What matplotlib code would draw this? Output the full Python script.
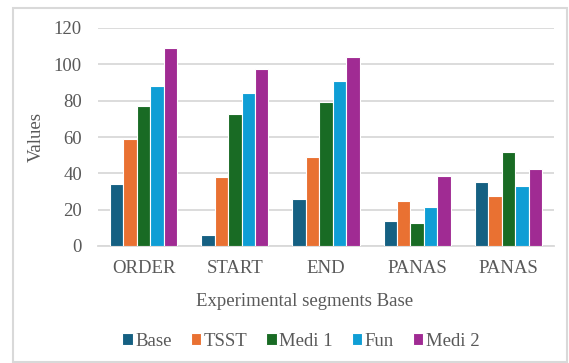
import numpy as np
import matplotlib
matplotlib.use("Agg")
import matplotlib.pyplot as plt
from matplotlib.patches import Rectangle

# Data
categories = ["ORDER", "START", "END", "PANAS", "PANAS"]
series = ["Base", "TSST", "Medi 1", "Fun", "Medi 2"]
base = [34, 6, 26, 14, 35]
tsst = [59, 38, 49, 25, 27.5]
medi1 = [77, 72.5, 79.5, 12.5, 51.5]
fun = [88, 84, 91, 21.5, 33]
medi2 = [109, 97.5, 104, 38.5, 42.5]
colors = ["#156082", "#E97132", "#196B24", "#0F9ED5", "#A02B93"]

plt.rcParams["font.family"] = ["Liberation Serif", "DejaVu Serif"]
text_color = "#595959"
grid_color = "#D9D9D9"
fs = 13.5

fig = plt.figure(figsize=(5.69, 3.63), dpi=100)
ax = fig.add_axes([98 / 569, 1 - 246 / 363, (554 - 98) / 569, (246 - 28) / 363])

x = np.arange(len(categories))
bar_w = 0.147
values = [base, tsst, medi1, fun, medi2]
for i, (name, vals) in enumerate(zip(series, values)):
    ax.bar(x + (i - 2) * bar_w, vals, width=bar_w, color=colors[i],
           edgecolor="white", linewidth=0.8, label=name, zorder=3)

ax.set_xlim(-0.5, len(categories) - 0.5)
ax.set_ylim(0, 120)
ax.set_yticks(range(0, 121, 20))
ax.set_xticks(x)
ax.set_xticklabels(categories)
ax.yaxis.grid(True, color=grid_color, linewidth=1.3, zorder=0)
ax.set_axisbelow(True)
for side in ["top", "right", "left"]:
    ax.spines[side].set_visible(False)
ax.spines["bottom"].set_color(grid_color)
ax.spines["bottom"].set_linewidth(1.3)
ax.tick_params(axis="both", length=0, labelsize=fs, colors=text_color)
ax.tick_params(axis="x", pad=10)
ax.tick_params(axis="y", pad=11.5)

ax.set_ylabel("Values", fontsize=fs, color=text_color)
ax.yaxis.set_label_coords((45 - 98) / (554 - 98), 0.5)
fig.text(305 / 569, 1 - 301 / 363, "Experimental segments Base",
         ha="center", va="center", fontsize=fs, color=text_color)

fig.legend(loc="center", bbox_to_anchor=(301 / 569, 1 - 341 / 363), ncol=5,
           frameon=False, fontsize=fs, labelcolor=text_color,
           handlelength=0.55, handleheight=0.55, handletextpad=0.15,
           columnspacing=1.0)

# light frame around the chart
fig.add_artist(Rectangle((13 / 569, 1 - 362 / 363), (567 - 13) / 569, (362 - 8) / 363,
                         transform=fig.transFigure, fill=False,
                         edgecolor=grid_color, linewidth=1.5))

fig.savefig("out.png", dpi=100)
